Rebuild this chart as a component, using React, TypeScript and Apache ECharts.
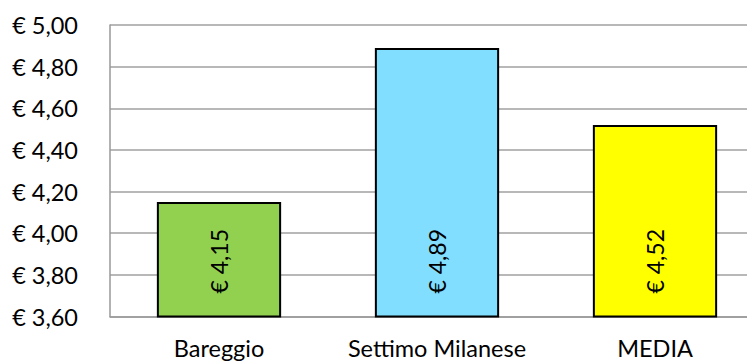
import React, { useEffect, useRef } from "react";
import * as echarts from "echarts";

// Prezzo medio per località
const categories = ["Bareggio", "Settimo Milanese", "MEDIA"];
const values = [4.15, 4.89, 4.52];
const barColors = ["#92D050", "#81DEFF", "#FFFF00"];

const yMin = 3.6;
const yMax = 5.0;
const yStep = 0.2;

const FONT = "Lato, 'Noto Sans', sans-serif";

const euro = (v: number) => "€ " + v.toFixed(2).replace(".", ",");

export default function App() {
  const ref = useRef<HTMLDivElement>(null);

  useEffect(() => {
    if (!ref.current) return;
    const chart = echarts.init(ref.current, undefined, { renderer: "svg" });
    chart.setOption({
      animation: false,
      backgroundColor: "#ffffff",
      grid: { left: 110, top: 25, right: 0, bottom: 46.5, containLabel: false },
      xAxis: {
        type: "category",
        data: categories,
        axisLine: { show: true, lineStyle: { color: "#999999", width: 1.5 } },
        axisTick: { show: false },
        axisLabel: {
          interval: 0,
          color: "#000000",
          fontFamily: FONT,
          fontSize: 23.5,
          margin: 19,
        },
        splitLine: { show: false },
      },
      yAxis: {
        type: "value",
        min: yMin,
        max: yMax,
        interval: yStep,
        axisLine: { show: true, lineStyle: { color: "#999999", width: 1.5 } },
        axisTick: { show: false },
        axisLabel: {
          color: "#000000",
          fontFamily: FONT,
          fontSize: 23.5,
          margin: 32,
          formatter: (v: number) => euro(v),
        },
        splitLine: { show: true, lineStyle: { color: "#A0A0A0", width: 1.5 } },
      },
      series: [
        {
          type: "bar",
          barCategoryGap: "43%",
          data: values.map((v, i) => ({
            value: v,
            itemStyle: { color: barColors[i] },
          })),
          itemStyle: { borderColor: "#000000", borderWidth: 2 },
          label: {
            show: true,
            position: "insideBottom",
            distance: 24,
            rotate: 90,
            align: "left",
            verticalAlign: "middle",
            color: "#000000",
            fontFamily: FONT,
            fontSize: 23,
            formatter: (p: any) => euro(p.value),
          },
        },
      ],
    });
    return () => chart.dispose();
  }, []);

  // The plot area is wider than the visible frame and gets cut at its right edge.
  return (
    <div style={{ position: "fixed", left: 0, top: 0, width: 747, height: 363, overflow: "hidden", background: "#fff" }}>
      <div ref={ref} style={{ width: 764, height: 363 }} />
    </div>
  );
}
